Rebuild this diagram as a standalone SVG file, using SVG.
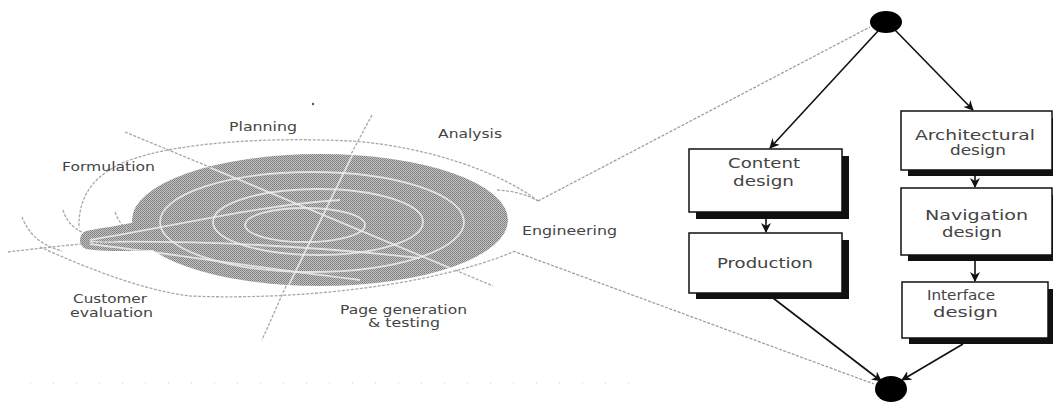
<svg xmlns="http://www.w3.org/2000/svg" width="1053" height="403" viewBox="0 0 1053 403">
<style>
.lbl{font-family:"DejaVu Sans","Liberation Sans",sans-serif;font-size:13px;fill:#444}
.blbl{font-family:"DejaVu Sans","Liberation Sans",sans-serif;font-size:14px;fill:#444}
.box{fill:#fff;stroke:#111;stroke-width:1.5}
.shadow{fill:#111}
.arrow{stroke:#111;stroke-width:1.6;fill:none;marker-end:url(#ah)}
.dot{fill:#000}
.sp{fill:none;stroke:#a8a8a8;stroke-width:1.3;stroke-dasharray:3 1.5}
.wl{fill:none;stroke:#ececec;stroke-width:1.8;opacity:0.85}
.link{fill:none;stroke:#a0a0a0;stroke-width:1.3;stroke-dasharray:3 1.5}
</style>
<defs>
<marker id="ah" viewBox="0 0 10 10" refX="9" refY="5" markerWidth="10" markerHeight="10" orient="auto" markerUnits="userSpaceOnUse">
<path d="M0,0 L10,5 L0,10 L3,5 Z" fill="#111"/>
</marker>
<pattern id="dither" width="2" height="2" patternUnits="userSpaceOnUse">
<rect width="2" height="2" fill="#c2c2c2"/>
<rect width="1" height="1" fill="#7c7c7c"/>
<rect x="1" y="1" width="1" height="1" fill="#888"/>
</pattern>
<clipPath id="shadeClip">
<ellipse cx="320" cy="220" rx="188" ry="66"/>
<path d="M145,220 C120,226 100,228 86,231 C78,234 78,246 86,249 C105,252 130,251 158,250 Z"/>
</clipPath>
</defs>
<rect width="1053" height="403" fill="#fff"/>

<g id="spiral">
<ellipse cx="320" cy="220" rx="188" ry="66" fill="url(#dither)"/>
<path d="M145,220 C120,226 100,228 86,231 C78,234 78,246 86,249 C105,252 130,251 158,250 Z" fill="url(#dither)"/>
<g clip-path="url(#shadeClip)">
<ellipse class="wl" cx="312" cy="222" rx="152" ry="50"/>
<ellipse class="wl" cx="318" cy="222" rx="105" ry="33"/>
<ellipse class="wl" cx="305" cy="225" rx="60" ry="17"/>
<path class="wl" d="M90,240 C180,225 260,205 340,200"/>
<path class="wl" d="M90,242 C200,240 300,245 420,258"/>
<path class="wl" d="M90,244 C180,255 260,268 360,280"/>
<path class="wl" d="M125,132 L493,286"/>
<path class="wl" d="M372,115 L262,340"/>
</g>
<path class="sp" d="M538,201 C505,175 430,146 350,141 C270,137 180,142 130,160 C95,173 78,195 79,228"/>
<path class="sp" d="M497,190 C515,191 528,195 538,201"/>
<path class="sp" d="M40,247 C80,265 140,290 190,296 C280,300 420,290 513,252"/>
<path class="sp" d="M22,217 C28,233 40,245 62,251"/>
<path class="sp" d="M8,252 C40,248 80,244 122,240"/>
<path class="sp" d="M63,210 C66,220 72,228 84,233"/>
<path class="sp" d="M115,212 C118,220 122,226 128,230"/>
<path class="sp" d="M125,132 L212,168"/>
<path class="sp" d="M455,270 L493,286"/>
<path class="sp" d="M372,115 L350,156"/>
<path class="sp" d="M286,286 L262,340"/>
<circle cx="313" cy="104" r="1.2" fill="#555"/>
<path d="M30,383 L640,383" stroke="#c8c8c8" stroke-width="1" stroke-dasharray="1 22" fill="none"/>
</g>

<g id="labels">
<text class="lbl" x="229" y="131" textLength="68" lengthAdjust="spacingAndGlyphs">Planning</text>
<text class="lbl" x="438" y="138" textLength="64" lengthAdjust="spacingAndGlyphs">Analysis</text>
<text class="lbl" x="62" y="171" textLength="93" lengthAdjust="spacingAndGlyphs">Formulation</text>
<text class="lbl" x="522" y="235" textLength="95" lengthAdjust="spacingAndGlyphs">Engineering</text>
<text class="lbl" x="73" y="303" textLength="74" lengthAdjust="spacingAndGlyphs">Customer</text>
<text class="lbl" x="70" y="317" textLength="83" lengthAdjust="spacingAndGlyphs">evaluation</text>
<text class="lbl" x="340" y="314" textLength="127" lengthAdjust="spacingAndGlyphs">Page generation</text>
<text class="lbl" x="368" y="327" textLength="72" lengthAdjust="spacingAndGlyphs">&amp; testing</text>
</g>

<g id="connectors">
<path class="link" d="M538,201 L870,27"/>
<path class="link" d="M513,251 L874,384"/>
<path class="arrow" d="M878,31 L770,148"/>
<path class="arrow" d="M895,30 L973,110"/>
<path class="arrow" d="M766,218 L766,232"/>
<path class="arrow" d="M975,176 L975,187"/>
<path class="arrow" d="M975,261 L975,281"/>
<path class="arrow" d="M773,298 L881,381"/>
<path class="arrow" d="M963,344 L902,380"/>
</g>

<g id="start">
<ellipse class="dot" cx="886" cy="22" rx="16" ry="11"/>
</g>
<g id="end">
<ellipse class="dot" cx="891" cy="389" rx="16" ry="13"/>
</g>

<g id="content-design">
<rect class="shadow" x="696" y="156" width="153" height="63"/>
<rect class="box" x="689" y="149" width="153" height="63"/>
<text class="blbl" x="728" y="168" textLength="72" lengthAdjust="spacingAndGlyphs">Content</text>
<text class="blbl" x="733" y="186" textLength="61" lengthAdjust="spacingAndGlyphs">design</text>
</g>
<g id="production">
<rect class="shadow" x="696" y="240" width="153" height="59"/>
<rect class="box" x="689" y="233" width="153" height="60"/>
<text class="blbl" x="717" y="268" textLength="96" lengthAdjust="spacingAndGlyphs">Production</text>
</g>
<g id="architectural-design">
<rect class="shadow" x="908" y="118" width="151" height="58"/>
<rect class="box" x="901" y="111" width="151" height="59"/>
<text class="blbl" x="915" y="140" textLength="120" lengthAdjust="spacingAndGlyphs">Architectural</text>
<text class="blbl" x="950" y="155" textLength="56" lengthAdjust="spacingAndGlyphs">design</text>
</g>
<g id="navigation-design">
<rect class="shadow" x="908" y="195" width="151" height="66"/>
<rect class="box" x="901" y="188" width="151" height="67"/>
<text class="blbl" x="925" y="220" textLength="103" lengthAdjust="spacingAndGlyphs">Navigation</text>
<text class="blbl" x="942" y="237" textLength="60" lengthAdjust="spacingAndGlyphs">design</text>
</g>
<g id="interface-design">
<rect class="shadow" x="909" y="289" width="150" height="55"/>
<rect class="box" x="902" y="282" width="146" height="56"/>
<text class="blbl" x="927" y="300" textLength="68" lengthAdjust="spacingAndGlyphs">Interface</text>
<text class="blbl" x="933" y="317" textLength="65" lengthAdjust="spacingAndGlyphs">design</text>
</g>
</svg>
